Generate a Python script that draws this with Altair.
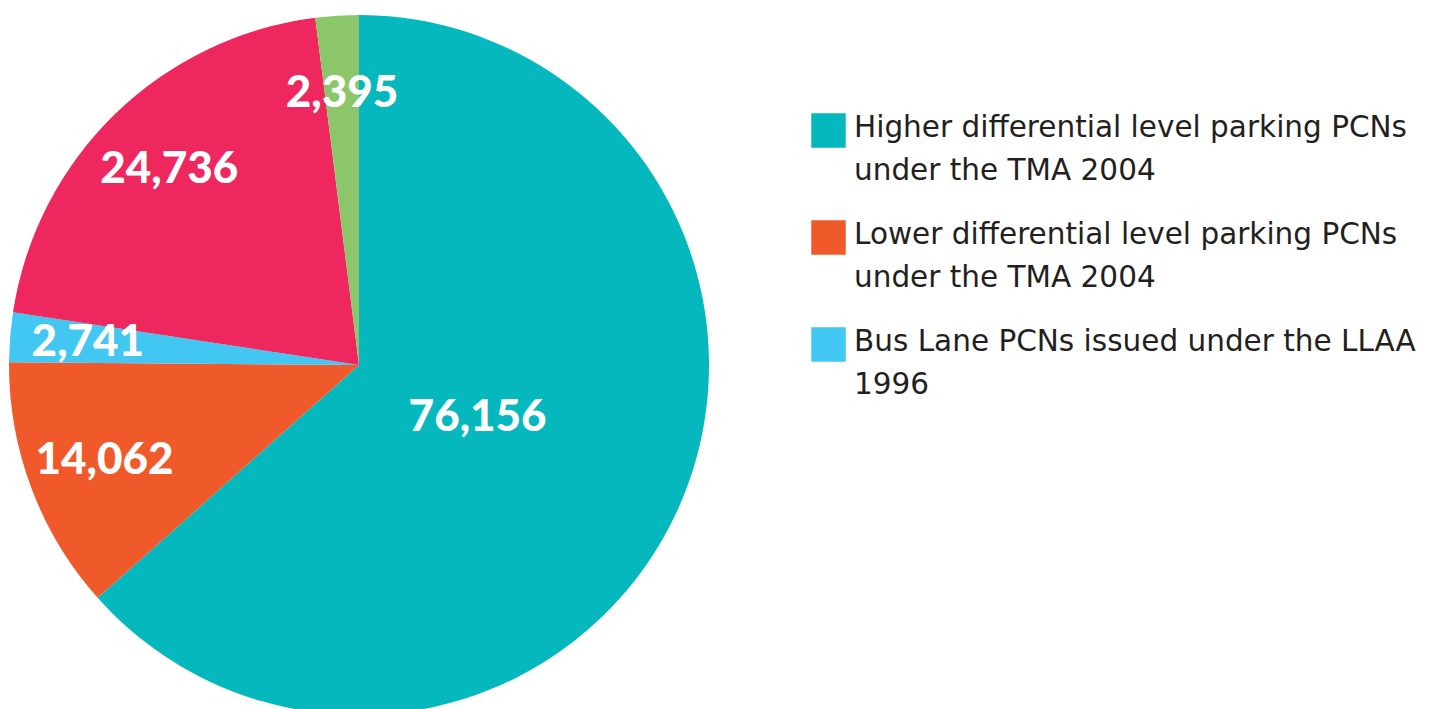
import altair as alt
import pandas as pd

categories = [
    "Higher differential level parking PCNs|under the TMA 2004",
    "Lower differential level parking PCNs|under the TMA 2004",
    "Bus Lane PCNs issued under the LLAA|1996",
    "Moving traffic PCNs",
    "Other PCNs",
]
values = [76156, 14062, 2741, 24736, 2395]
colors = ["#05B8BD", "#F05A2B", "#42C6F2", "#EE285E", "#8CC66A"]
legend_items = categories[:3]

df = pd.DataFrame({"category": categories, "value": values, "order": list(range(len(values)))})

base = alt.Chart(df).transform_joinaggregate(
    total="sum(value)"
).transform_window(
    cum="sum(value)", sort=[alt.SortField("order")], frame=[None, 0]
).transform_calculate(
    start="(datum.cum - datum.value) / datum.total * 2 * PI",
    end="datum.cum / datum.total * 2 * PI",
    mid="(datum.cum - datum.value / 2) / datum.total * 2 * PI",
    lr="datum.value / datum.total > 0.5 ? 130 : 272",
)

pie = base.mark_arc(outerRadius=350).encode(
    theta=alt.Theta("start:Q", scale=None),
    theta2="end:Q",
    color=alt.Color(
        "category:N",
        scale=alt.Scale(domain=categories, range=colors),
        sort=categories,
        legend=alt.Legend(
            values=legend_items,
            title=None,
            orient="none",
            legendX=803,
            legendY=105,
            symbolType="square",
            symbolSize=1190,
            symbolStrokeWidth=0,
            symbolOpacity=1,
            labelFont="DejaVu Sans",
            labelFontSize=29.5,
            labelColor="#231F20",
            labelLimit=700,
            labelOffset=8,
            labelExpr="split(datum.label, '|')",
            labelBaseline="alphabetic",
            rowPadding=34,
        ),
    ),
)

labels = base.mark_text(
    font="Lato", fontWeight=900, fontSize=44, color="white", align="center", baseline="middle"
).encode(
    theta=alt.Theta("mid:Q", scale=None),
    radius=alt.Radius("lr:Q", scale=None),
    text=alt.Text("value:Q", format=","),
)

chart = (
    (pie + labels)
    .properties(width=702, height=714, padding=0)
    .configure_view(stroke=None)
    .configure(style={"guide-label": {"lineHeight": 43, "dy": 6}})
)

chart.save("out.html", embed_options={"renderer": "svg", "actions": False})
